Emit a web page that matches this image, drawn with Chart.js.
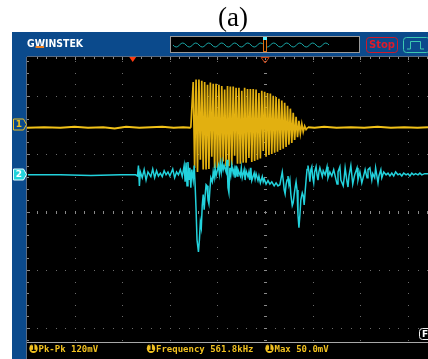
<!DOCTYPE html>
<html>
<head>
<meta charset="utf-8">
<script src="https://cdn.jsdelivr.net/npm/chart.js@4.4.1/dist/chart.umd.min.js"></script>
<style>
html, body { margin: 0; padding: 0; background: #fff; }
#wrap { width: 428px; height: 359px; }
</style>
</head>
<body>
<div id="wrap"><canvas id="scope" width="428" height="359"></canvas></div>
<script>
// time in microseconds (50 us/div), amplitude in divisions
var timeTicks = [-250, -200, -150, -100, -50, 0, 50, 100, 150];
var voltTicks = [-2, -1, 0, 1, 2];

var ch1Offset = 1.45;  // CH1 ground marker (div)
var ch2Offset = 0.64;  // CH2 ground marker (div)
var trigTime = -139;   // trigger point marker

// CH1 quiet parts before and after the burst
var ch1PreTime = [-250, -232, -215, -200, -186, -170, -158, -146, -132, -120, -108, -96, -86, -78];
var ch1PreVolt = [0, 0.01, 0, 0.02, 0, 0.01, -0.01, 0.02, 0, 0.01, 0.02, 0, 0.01, 0];
var ch1PostTime = [45, 52, 62, 75, 90, 104, 118, 132, 146, 160, 171];
var ch1PostVolt = [0.01, 0, 0.02, 0, 0.01, 0, 0.02, 0, 0.01, 0, 0.01];

// CH1 burst: one cycle every 3 us, upper and lower peak of each cycle
var burstStart = -75.5;
var burstPeriod = 3.0;
var ch1Upper = [0.79, 0.83, 0.83, 0.81, 0.79, 0.74, 0.78, 0.76, 0.76, 0.74,
                0.72, 0.66, 0.72, 0.71, 0.71, 0.69, 0.69, 0.64, 0.69, 0.67,
                0.67, 0.67, 0.66, 0.60, 0.64, 0.62, 0.60, 0.59, 0.55, 0.53,
                0.50, 0.47, 0.43, 0.38, 0.33, 0.26, 0.19, 0.12, 0.07, 0.03];
var ch1Lower = [-0.69, -0.76, -0.55, -0.72, -0.72, -0.71, -0.50, -0.69, -0.69, -0.67,
                -0.58, -0.66, -0.66, -0.64, -0.48, -0.62, -0.62, -0.60, -0.60, -0.52,
                -0.59, -0.57, -0.55, -0.53, -0.40, -0.50, -0.47, -0.45, -0.43, -0.41,
                -0.38, -0.36, -0.33, -0.29, -0.26, -0.21, -0.16, -0.10, -0.07, -0.03];

// CH2 record
var ch2Time = [-249, -215, -183, -152, -136, -134, -133, -132, -131, -129, -127, -125, -123, -120, -118,
  -116, -114, -112, -110, -108, -106, -104, -102, -100, -97, -95, -93, -91, -89, -87,
  -85, -84, -83, -82, -81, -80, -79, -78, -77, -75.5, -74.5, -73.5, -72.5, -71.5, -70,
  -69, -68, -67, -66, -65, -64, -63, -62, -61, -60, -59, -58, -57, -55.5, -54.5,
  -53.5, -52.5, -51.5, -49, -48, -47, -46, -45, -44, -43, -41, -40, -39, -38, -37,
  -36, -35, -33.5, -32.5, -31.5, -30.5, -29.5, -28.5, -26, -25, -24, -22, -21, -20, -18,
  -17, -16, -15, -14, -11.5, -10.5, -9.5, -7.5, -6.5, -5, -3, -2, -1, 1, 3,
  5, 7, 9.5, 11.5, 13.5, 15.5, 18, 19, 20, 21, 22, 23, 24, 25, 26,
  27, 28.5, 29.5, 30.5, 31.5, 32.5, 33.5, 34.5, 35.5, 36.5, 37.5, 39, 40, 41, 42,
  43, 44, 45, 46, 47, 48, 49, 50, 51, 52, 53.5, 54.5, 55.5, 56.5, 57.5,
  60, 61, 63, 65, 66, 68, 70, 72, 74.5, 75.5, 76.5, 78.5, 79.5, 82, 83,
  84, 86, 87, 88, 90, 92, 94, 96.5, 97.5, 99.5, 101.5, 104, 105, 107, 108,
  110, 112, 113, 115, 116, 118.5, 119.5, 121.5, 122.5, 124.5, 127, 129, 131, 133, 135,
  137, 139.5, 141.5, 143.5, 145.5, 148, 150, 152, 154, 156, 158, 160.5, 162.5, 164.5, 167.5, 171];
var ch2Volt = [0, 0, -0.01, 0, 0, -0.02, 0.16, -0.19, 0.05, -0.05, 0.09, -0.09, 0.05, -0.03, 0.10,
  -0.05, 0.07, -0.02, 0.03, -0.03, 0.07, 0, 0.05, -0.02, 0.10, -0.05, 0.05, 0, 0.09, -0.03,
  0.16, -0.12, 0.21, -0.19, 0.22, -0.09, 0.12, -0.22, 0.09, -0.09, 0.16, -0.17, -0.60, -1.12, -1.33,
  -1.12, -0.81, -0.91, -0.52, -0.34, -0.60, -0.36, -0.17, -0.19, -0.43, -0.50, -0.26, -0.05, -0.12, 0.05,
  -0.05, 0.12, -0.02, 0.16, 0.02, 0.19, 0.05, 0.21, 0.09, 0.16, 0.05, 0.26, -0.22, -0.31, 0.12,
  0, 0.17, 0.02, 0.10, -0.05, 0.16, -0.02, 0.09, -0.02, 0.12, -0.05, 0.09, -0.09, 0.07, -0.03,
  0.05, -0.09, 0.12, -0.10, 0.03, -0.07, 0.02, -0.10, -0.02, -0.14, -0.03, -0.12, -0.07, -0.16, -0.10,
  -0.16, -0.12, -0.19, -0.14, -0.19, -0.17, 0.05, -0.09, -0.26, -0.33, -0.17, -0.09, -0.02, -0.17, -0.09,
  -0.34, -0.53, -0.48, -0.34, -0.22, -0.12, -0.26, -0.69, -0.91, -0.69, -0.43, -0.31, -0.36, -0.52, -0.29,
  -0.09, 0.09, 0.16, 0.05, -0.12, 0.09, 0.14, -0.05, -0.14, 0.05, 0.14, 0, -0.09, 0.05, 0.12,
  -0.03, 0.07, 0, 0.14, -0.05, 0.05, -0.02, 0.09, -0.09, -0.16, 0.05, 0.14, -0.09, -0.19, -0.05,
  0.12, -0.12, -0.21, -0.02, 0.16, -0.16, 0, 0.12, -0.09, 0.05, -0.14, 0.02, 0.09, -0.05, 0.09,
  0.12, -0.09, 0.02, -0.05, 0.12, -0.14, -0.02, 0.09, -0.05, 0.05, 0, 0.03, -0.02, 0.03, -0.02,
  0.05, 0, 0.02, -0.02, 0.03, 0, 0.02, -0.02, 0.03, 0, 0.02, 0, 0.03, 0, 0.02, 0.02];

var measures = ['Pk-Pk 120mV', 'Frequency 561.8kHz', 'Max 50.0mV'];

// build the point tables
var ch1Points = [];
for (var i = 0; i < ch1PreTime.length; i++) {
    ch1Points.push({ x: ch1PreTime[i], y: ch1Offset + ch1PreVolt[i] });
}
for (var k = 0; k < ch1Upper.length; k++) {
    ch1Points.push({ x: burstStart + k * burstPeriod, y: ch1Offset + ch1Upper[k] });
    ch1Points.push({ x: burstStart + k * burstPeriod + burstPeriod / 2, y: ch1Offset + ch1Lower[k] });
}
var burstEnd = burstStart + ch1Upper.length * burstPeriod;
for (var i = 0; i < ch1PostTime.length; i++) {
    ch1Points.push({ x: ch1PostTime[i], y: ch1Offset + ch1PostVolt[i] });
}
var ch2Points = [];
for (var i = 0; i < ch2Time.length; i++) {
    ch2Points.push({ x: ch2Time[i], y: ch2Offset + ch2Volt[i] });
}

var BLUE = '#0b4a8c';
var YELLOW = '#f0c020';
var CYAN = '#22d2dc';

function roundRect(ctx, x, y, w, h, r) {
    ctx.beginPath();
    ctx.moveTo(x + r, y);
    ctx.lineTo(x + w - r, y);
    ctx.arcTo(x + w, y, x + w, y + r, r);
    ctx.lineTo(x + w, y + h - r);
    ctx.arcTo(x + w, y + h, x + w - r, y + h, r);
    ctx.lineTo(x + r, y + h);
    ctx.arcTo(x, y + h, x, y + h - r, r);
    ctx.lineTo(x, y + r);
    ctx.arcTo(x, y, x + r, y, r);
    ctx.closePath();
}

function chanMarker(ctx, label, py, filled) {
    ctx.beginPath();
    ctx.moveTo(13.5, py - 5.5);
    ctx.lineTo(23.5, py - 5.5);
    ctx.lineTo(26.5, py);
    ctx.lineTo(23.5, py + 5.5);
    ctx.lineTo(13.5, py + 5.5);
    ctx.closePath();
    if (filled) {
        ctx.fillStyle = CYAN;
        ctx.fill();
        ctx.strokeStyle = '#e8ffff';
    } else {
        ctx.strokeStyle = YELLOW;
    }
    ctx.lineWidth = 1;
    ctx.stroke();
    ctx.fillStyle = filled ? '#ffffff' : YELLOW;
    ctx.font = 'bold 9px "DejaVu Sans"';
    ctx.textAlign = 'center';
    ctx.textBaseline = 'middle';
    ctx.fillText(label, 19, py + 0.5);
}

var scopePlugin = {
    id: 'scopeFrame',
    beforeDraw: function(chart) {
        var ctx = chart.ctx;
        var a = chart.chartArea;
        ctx.save();
        ctx.fillStyle = '#ffffff';
        ctx.fillRect(0, 0, 428, 359);
        ctx.fillStyle = BLUE;
        ctx.fillRect(12, 32, 416, 327);
        ctx.fillStyle = '#000000';
        ctx.fillRect(a.left, a.top, a.right - a.left, 359 - a.top);

        // title
        ctx.fillStyle = '#000000';
        ctx.font = '27px "Liberation Serif"';
        ctx.textAlign = 'center';
        ctx.textBaseline = 'alphabetic';
        ctx.fillText('(a)', 233, 26);

        // logo
        ctx.font = 'bold 11px "DejaVu Sans"';
        ctx.textAlign = 'left';
        var lw = ctx.measureText('GWINSTEK').width;
        var gw = ctx.measureText('G').width;
        var ww = ctx.measureText('W').width;
        var sx = 56 / lw;
        ctx.save();
        ctx.translate(27, 47);
        ctx.scale(sx, 1);
        ctx.fillStyle = '#ffffff';
        ctx.fillText('GWINSTEK', 0, 0);
        ctx.fillStyle = '#f08020';
        ctx.fillRect(gw + 1, -1, ww - 2, 2);
        ctx.restore();

        // overview bar
        ctx.fillStyle = '#000000';
        ctx.fillRect(170, 36, 190, 17);
        ctx.strokeStyle = '#9a9a9a';
        ctx.lineWidth = 1;
        ctx.strokeRect(170.5, 36.5, 189, 16);
        ctx.strokeStyle = '#1aa8a8';
        ctx.beginPath();
        ctx.moveTo(173, 45);
        for (var x = 173; x < 327; x += 13) {
            ctx.quadraticCurveTo(x + 3.25, 49, x + 6.5, 45);
            ctx.quadraticCurveTo(x + 9.75, 41, x + 13, 45);
        }
        ctx.stroke();
        ctx.fillStyle = '#000000';
        ctx.fillRect(263, 38, 4, 14);
        ctx.strokeStyle = '#e07010';
        ctx.strokeRect(263.5, 38.5, 3, 13);
        ctx.fillStyle = '#60f0ff';
        ctx.fillRect(263, 37, 4, 3);

        // Stop button
        roundRect(ctx, 366.5, 37.5, 31, 15, 3);
        ctx.strokeStyle = '#d01828';
        ctx.stroke();
        ctx.fillStyle = '#e01a2a';
        ctx.font = 'bold 10px "DejaVu Sans"';
        ctx.textAlign = 'center';
        ctx.textBaseline = 'middle';
        ctx.fillText('Stop', 382, 45.5);

        // trigger icon
        roundRect(ctx, 403.5, 37.5, 26, 15, 3);
        ctx.strokeStyle = '#3cc8b0';
        ctx.stroke();
        ctx.beginPath();
        ctx.moveTo(407, 49);
        ctx.lineTo(410.5, 49);
        ctx.lineTo(410.5, 41.5);
        ctx.lineTo(420.5, 41.5);
        ctx.lineTo(420.5, 49);
        ctx.lineTo(424, 49);
        ctx.stroke();
        ctx.restore();
    },
    beforeDatasetsDraw: function(chart) {
        var ctx = chart.ctx;
        var a = chart.chartArea;
        var xs = chart.scales.x;
        var ys = chart.scales.y;
        ctx.save();
        ctx.fillStyle = '#6c6c6c';
        // vertical grid lines, dots every 0.2 div
        timeTicks.forEach(function(t) {
            var px = Math.round(xs.getPixelForValue(t));
            for (var j = -15; j <= 15; j++) {
                var py = Math.round(ys.getPixelForValue(j / 5));
                if (py > a.top && py < a.bottom) ctx.fillRect(px, py, 1, 1);
            }
        });
        // horizontal grid lines, dots every 10 us
        voltTicks.forEach(function(v) {
            var py = Math.round(ys.getPixelForValue(v));
            for (var j = -25; j <= 18; j++) {
                var px = Math.round(xs.getPixelForValue(j * 10));
                if (px > a.left && px < a.right) ctx.fillRect(px, py, 1, 1);
            }
        });
        // centre cross ticks
        var cx = Math.round(xs.getPixelForValue(0));
        var cy = Math.round(ys.getPixelForValue(0));
        ctx.fillStyle = '#8a8a8a';
        for (var j = -15; j <= 15; j++) {
            var py = Math.round(ys.getPixelForValue(j / 5));
            if (py > a.top && py < a.bottom) ctx.fillRect(cx - 1, py, 3, 1);
        }
        for (var j = -25; j <= 18; j++) {
            var px = Math.round(xs.getPixelForValue(j * 10));
            if (px > a.left && px < a.right) ctx.fillRect(px, cy - 1, 1, 3);
        }
        // border ticks
        for (var j = -25; j <= 18; j++) {
            var px = Math.round(xs.getPixelForValue(j * 10));
            if (px > a.left && px < a.right) ctx.fillRect(px, a.top, 1, j % 5 === 0 ? 3 : 2);
        }
        for (var j = -15; j <= 15; j++) {
            var py = Math.round(ys.getPixelForValue(j / 5));
            if (py > a.top && py < a.bottom) ctx.fillRect(a.left, py, j % 5 === 0 ? 3 : 2, 1);
        }
        ctx.fillStyle = '#5a6a80';
        ctx.fillRect(a.left - 1, a.top, 1, 359 - a.top);
        ctx.fillRect(a.left, a.top - 1, a.right - a.left, 1);
        ctx.restore();
    },
    afterDraw: function(chart) {
        var ctx = chart.ctx;
        var a = chart.chartArea;
        var xs = chart.scales.x;
        var ys = chart.scales.y;
        ctx.save();
        // trigger position markers
        var tx = xs.getPixelForValue(trigTime);
        ctx.fillStyle = '#ff3a10';
        ctx.beginPath();
        ctx.moveTo(tx - 3.5, a.top);
        ctx.lineTo(tx + 3.5, a.top);
        ctx.lineTo(tx, a.top + 5);
        ctx.closePath();
        ctx.fill();
        var hx = xs.getPixelForValue(0);
        ctx.strokeStyle = '#c84010';
        ctx.lineWidth = 1;
        ctx.beginPath();
        ctx.moveTo(hx - 4, a.top + 0.5);
        ctx.lineTo(hx + 4, a.top + 0.5);
        ctx.lineTo(hx, a.top + 6);
        ctx.closePath();
        ctx.stroke();

        // channel markers
        chanMarker(ctx, '1', Math.round(ys.getPixelForValue(ch1Offset)) - 3.5, false);
        chanMarker(ctx, '2', Math.round(ys.getPixelForValue(ch2Offset)) - 0.5, true);

        // small label at the right edge
        ctx.fillStyle = '#000000';
        roundRect(ctx, 419.5, 328.5, 12, 11, 3);
        ctx.fill();
        ctx.strokeStyle = '#f0f0f0';
        ctx.stroke();
        ctx.fillStyle = '#ffffff';
        ctx.font = 'bold 9px "DejaVu Sans"';
        ctx.textAlign = 'left';
        ctx.textBaseline = 'middle';
        ctx.fillText('F', 422, 334.5);

        // status bar
        ctx.fillStyle = '#000000';
        ctx.fillRect(a.left, a.bottom + 1, a.right - a.left, 359 - a.bottom);
        ctx.fillStyle = '#a8a8a8';
        ctx.fillRect(a.left, a.bottom, a.right - a.left, 1);
        var starts = [33.5, 151, 269.5];
        for (var m = 0; m < measures.length; m++) {
            ctx.fillStyle = YELLOW;
            ctx.beginPath();
            ctx.ellipse(starts[m], 348.5, 4.2, 4.6, 0, 0, Math.PI * 2);
            ctx.fill();
            ctx.fillStyle = '#000000';
            ctx.font = 'bold 8px "DejaVu Sans"';
            ctx.textAlign = 'center';
            ctx.textBaseline = 'middle';
            ctx.fillText('1', starts[m], 349);
            ctx.fillStyle = YELLOW;
            ctx.font = 'bold 9px "DejaVu Sans Mono"';
            ctx.textAlign = 'left';
            ctx.textBaseline = 'alphabetic';
            ctx.fillText(measures[m], starts[m] + 5, 352);
        }
        ctx.restore();
    }
};

function inBurst(c) {
    return c.p1.parsed.x > burstStart - 1 && c.p0.parsed.x < burstEnd;
}

var ctx = document.getElementById('scope').getContext('2d');
var scopeChart = new Chart(ctx, {
    type: 'line',
    data: {
        datasets: [
            {
                label: 'CH2',
                data: ch2Points,
                borderColor: CYAN,
                borderWidth: 1.5,
                pointRadius: 0,
                tension: 0,
                order: 0
            },
            {
                label: 'CH1',
                data: ch1Points,
                borderColor: 'rgb(232, 182, 18)',
                borderWidth: 2,
                pointRadius: 0,
                tension: 0,
                order: 1,
                segment: {
                    borderWidth: function(c) { return inBurst(c) ? 1.7 : 2; },
                    borderColor: function(c) { return inBurst(c) ? 'rgb(226, 176, 16)' : 'rgb(242, 194, 24)'; }
                }
            }
        ]
    },
    options: {
        responsive: false,
        animation: false,
        devicePixelRatio: 1,
        layout: { padding: { left: 27, top: 57, right: 0, bottom: 17 } },
        plugins: {
            legend: { display: false },
            tooltip: { enabled: false }
        },
        scales: {
            x: { type: 'linear', min: -250, max: 171, display: false },
            y: { type: 'linear', min: -2.24, max: 2.67, display: false }
        }
    },
    plugins: [scopePlugin]
});
</script>
</body>
</html>
